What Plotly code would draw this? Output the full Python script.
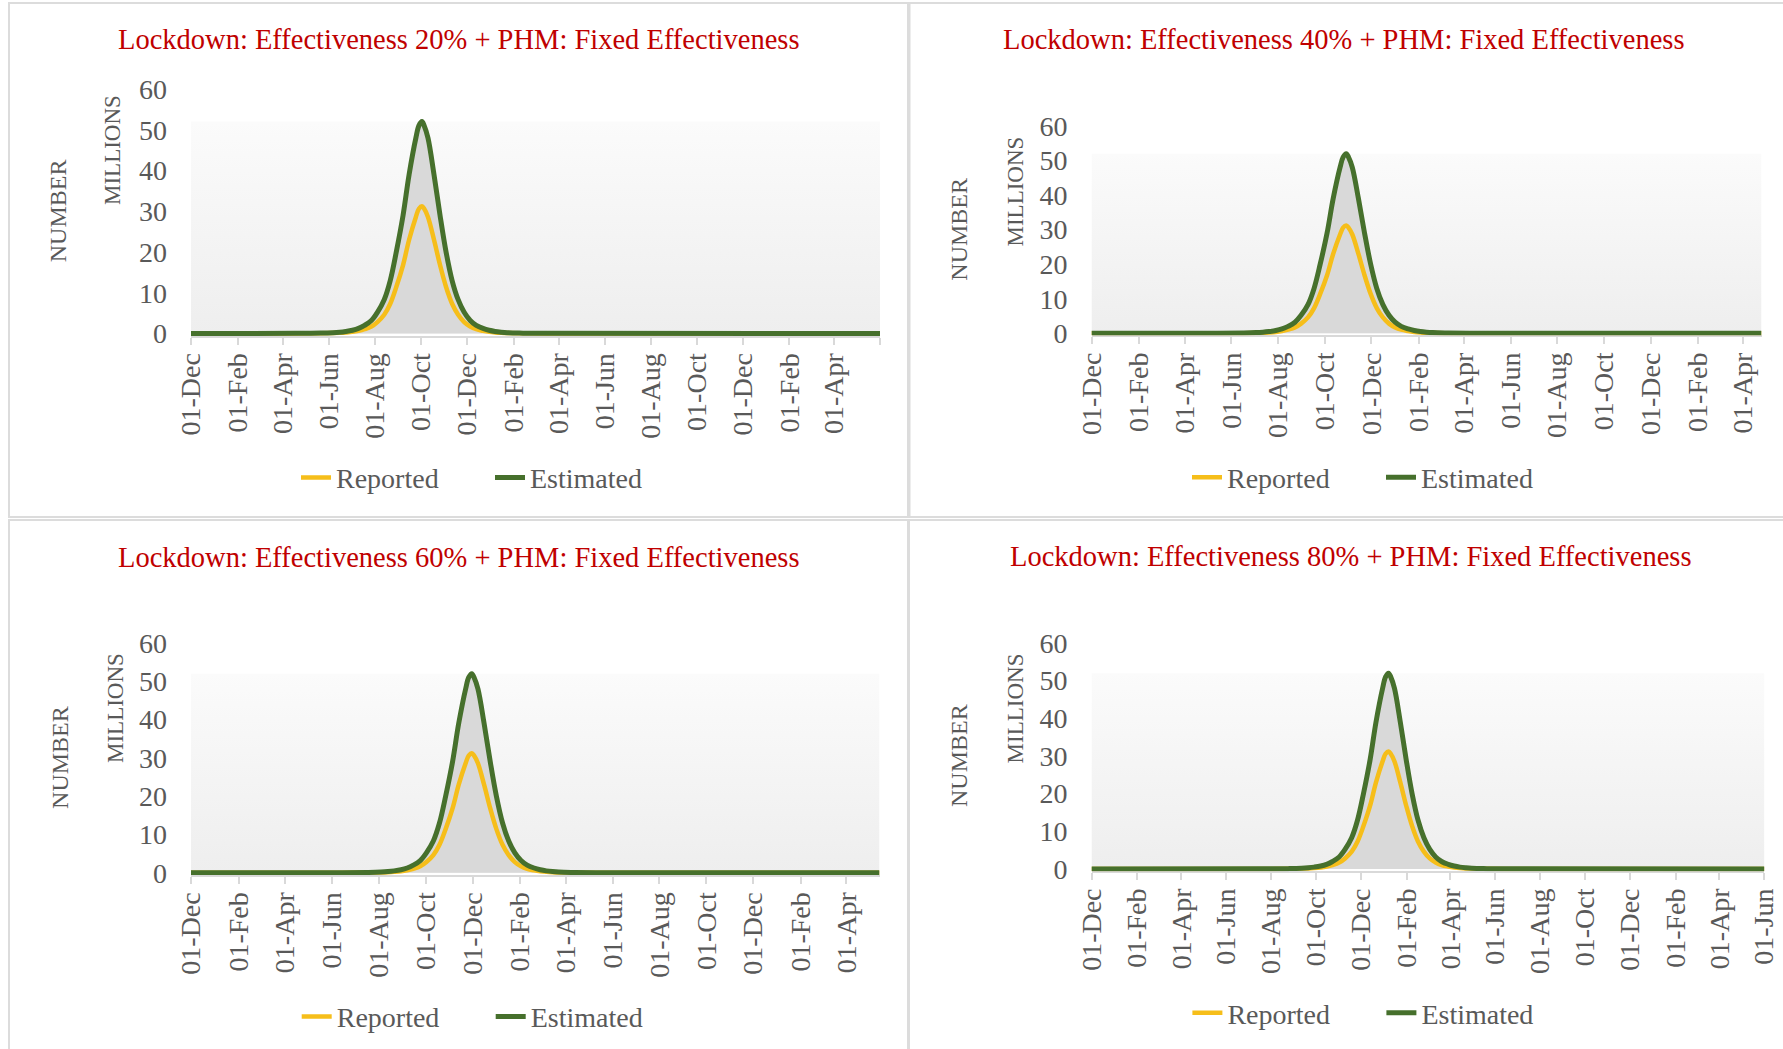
import pandas as pd
import plotly.graph_objects as go

# ---------------- data ----------------
START_DATE = "2019-12-01"
END_DATES = ["2022-06-01", "2022-04-25", "2022-05-14", "2022-06-01"]
PEAK_DATES = ["2020-10-02", "2020-10-29", "2020-11-30", "2021-01-07"]
LOCKDOWN_LEVELS = ["20%", "40%", "60%", "80%"]

# epidemic curve (millions), read at days relative to each panel's peak
DAYS_FROM_PEAK = [-168, -134, -118, -109, -101, -92, -84, -76, -67, -59, -50, -42, -34, -25, -17, -8, -4,
                  0,
                  3, 8, 16, 24, 32, 40, 48, 56, 64, 72, 81, 89, 97, 105, 113, 129, 161]
ESTIMATED_M = [0.04, 0.1, 0.2, 0.32, 0.5, 0.8, 1.25, 2.0, 3.2, 5.2, 8.3, 13.0, 20.0, 29.0, 39.0, 48.0, 51.0,
               52.0,
               51.0, 48.0, 39.0, 29.0, 20.0, 13.0, 8.3, 5.2, 3.2, 2.0, 1.25, 0.8, 0.5, 0.32, 0.2, 0.1, 0.04]
REPORTED_M = [0.02, 0.05, 0.1, 0.16, 0.25, 0.4, 0.65, 1.05, 1.7, 2.8, 4.6, 7.3, 11.4, 16.8, 23.0, 28.6, 30.6,
              31.2,
              30.6, 28.6, 23.0, 16.8, 11.4, 7.3, 4.6, 2.8, 1.7, 1.05, 0.65, 0.4, 0.25, 0.16, 0.1, 0.05, 0.02]

TICK_DATES = ["2019-12-01", "2020-02-01", "2020-04-01", "2020-06-01", "2020-08-01", "2020-10-01",
              "2020-12-01", "2021-02-01", "2021-04-01", "2021-06-01", "2021-08-01", "2021-10-01",
              "2021-12-01", "2022-02-01", "2022-04-01", "2022-06-01"]
TICK_LABELS = ["01-Dec", "01-Feb", "01-Apr", "01-Jun", "01-Aug", "01-Oct",
               "01-Dec", "01-Feb", "01-Apr", "01-Jun", "01-Aug", "01-Oct",
               "01-Dec", "01-Feb", "01-Apr", "01-Jun"]
X_TICK_LABELS = [
    TICK_LABELS[:15] + [""],
    TICK_LABELS[:15],
    TICK_LABELS[:15],
    TICK_LABELS,
]
Y_TICKS = [0, 10, 20, 30, 40, 50, 60]

# ---------------- layout constants (pixels) ----------------
W, H = 1783, 1049
PLOT_PX = [(191, 880, 89, 333.5), (1091.5, 1761.5, 126, 333.3),
           (191, 879.5, 643, 872.8), (1091.5, 1764.4, 643, 869)]   # left, right, y@60, y@0
TITLE_PX = [(458, 40), (1343, 40), (458, 557), (1350, 556)]
LEGEND_PX = [(338, 477.7), (1229, 477.5), (338.7, 1016.7), (1229.4, 1013)]
NUMBER_X = [58, 959, 60, 959]
MILLIONS_PX = [(113, 150), (1015, 191.5), (115, 708), (1015.4, 708)]

FONT = "Liberation Serif"
GRAY = "#595959"
YELLOW = "#F6BE1A"
GREEN = "#46702C"
RED = "#C00000"
Y_MIN = -0.6

fig = go.Figure()
annotations = []
shapes = []
layout_axes = {}

for i in range(4):
    n = i + 1
    sfx = "" if n == 1 else str(n)
    xa, ya = "x" + sfx, "y" + sfx
    left, right, y60, y0 = PLOT_PX[i]
    ppu = (y0 - y60) / 60.0
    bottom = y0 - Y_MIN * ppu

    peak = pd.Timestamp(PEAK_DATES[i])
    prof_dates = [peak + pd.Timedelta(days=d) for d in DAYS_FROM_PEAK]
    dates = [pd.Timestamp(START_DATE)] + prof_dates + [pd.Timestamp(END_DATES[i])]
    est = [0.0] + ESTIMATED_M + [0.0]
    rep = [0.0] + REPORTED_M + [0.0]

    band_top = max(ESTIMATED_M)
    fig.add_trace(go.Scatter(
        x=[dates[0], dates[-1]], y=[band_top, band_top], mode="lines",
        line=dict(width=0), fill="tozeroy",
        fillgradient=dict(type="vertical", colorscale=[[0, "#eeeeee"], [1, "#fbfbfb"]]),
        showlegend=False, hoverinfo="skip", xaxis=xa, yaxis=ya))
    fig.add_trace(go.Scatter(
        x=dates, y=est, mode="lines", line=dict(width=0, shape="spline"),
        fill="tozeroy", fillcolor="#d9d9d9",
        showlegend=False, hoverinfo="skip", xaxis=xa, yaxis=ya))
    legend_name = "legend" if n == 1 else "legend" + str(n)
    fig.add_trace(go.Scatter(
        x=dates, y=rep, mode="lines", name="Reported",
        line=dict(color=YELLOW, width=4.5, shape="spline"),
        legend=legend_name, xaxis=xa, yaxis=ya))
    fig.add_trace(go.Scatter(
        x=dates, y=est, mode="lines", name="Estimated",
        line=dict(color=GREEN, width=5, shape="spline"),
        legend=legend_name, xaxis=xa, yaxis=ya))

    nt = len(X_TICK_LABELS[i])
    layout_axes["xaxis" + sfx] = dict(
        domain=[left / W, right / W], anchor=ya, type="date",
        range=[START_DATE, END_DATES[i]],
        tickvals=TICK_DATES[:nt], ticktext=X_TICK_LABELS[i],
        tickangle=-90, tickfont=dict(family=FONT, size=28, color=GRAY),
        showline=True, linecolor="#d9d9d9", linewidth=2,
        ticks="outside", ticklen=7, tickwidth=1.5, tickcolor="#d9d9d9",
        ticklabelstandoff=-3, automargin=False,
        showgrid=False, zeroline=False, layer="below traces", fixedrange=True)
    layout_axes["yaxis" + sfx] = dict(
        domain=[1 - bottom / H, 1 - y60 / H], anchor=xa,
        range=[Y_MIN, 60], tickvals=Y_TICKS,
        tickfont=dict(family=FONT, size=28, color=GRAY),
        showline=False, showgrid=False, zeroline=False, ticks="",
        ticklabelstandoff=23, automargin=False, fixedrange=True)

    tx, ty = TITLE_PX[i]
    annotations.append(dict(
        text="Lockdown: Effectiveness " + LOCKDOWN_LEVELS[i] + " + PHM: Fixed Effectiveness",
        x=tx / W, y=1 - ty / H, xref="paper", yref="paper", showarrow=False,
        xanchor="center", yanchor="middle", font=dict(family=FONT, size=28.5, color=RED)))
    annotations.append(dict(
        text="NUMBER", x=NUMBER_X[i] / W, y=1 - ((y60 + y0) / 2) / H, xref="paper", yref="paper",
        showarrow=False, textangle=-90, xanchor="center", yanchor="middle",
        font=dict(family=FONT, size=24, color=GRAY)))
    mx, my = MILLIONS_PX[i]
    annotations.append(dict(
        text="MILLIONS", x=mx / W, y=1 - my / H, xref="paper", yref="paper",
        showarrow=False, textangle=-90, xanchor="center", yanchor="middle",
        font=dict(family=FONT, size=23, color=GRAY)))

    lx, ly = LEGEND_PX[i]
    layout_axes[legend_name] = dict(
        orientation="h", x=(lx - 42) / W, y=1 - ly / H, xanchor="left", yanchor="middle",
        font=dict(family=FONT, size=28, color=GRAY), bgcolor="rgba(0,0,0,0)",
        entrywidth=149, entrywidthmode="pixels", itemclick=False, itemdoubleclick=False)

BORDER = "#dcdcdc"
shapes.append(dict(type="rect", xref="paper", yref="paper", x0=9 / W, x1=908 / W,
                   y0=1 - 517 / H, y1=1 - 3 / H, line=dict(color=BORDER, width=2)))
shapes.append(dict(type="rect", xref="paper", yref="paper", x0=909.5 / W, x1=1.01,
                   y0=1 - 517 / H, y1=1 - 3 / H, line=dict(color=BORDER, width=2)))
shapes.append(dict(type="rect", xref="paper", yref="paper", x0=9 / W, x1=908 / W,
                   y0=-0.01, y1=1 - 520 / H, line=dict(color=BORDER, width=2)))
shapes.append(dict(type="rect", xref="paper", yref="paper", x0=909 / W, x1=1.01,
                   y0=-0.01, y1=1 - 520 / H, line=dict(color=BORDER, width=2)))

fig.update_layout(
    template="none",
    width=W, height=H, autosize=False,
    margin=dict(l=0, r=0, t=0, b=0, pad=0),
    paper_bgcolor="white", plot_bgcolor="rgba(0,0,0,0)",
    annotations=annotations, shapes=shapes,
    hovermode=False,
    **layout_axes)

fig.write_html("out.html", config={"displayModeBar": False},
               post_script="document.body.style.margin='0';document.body.style.overflow='hidden';")
